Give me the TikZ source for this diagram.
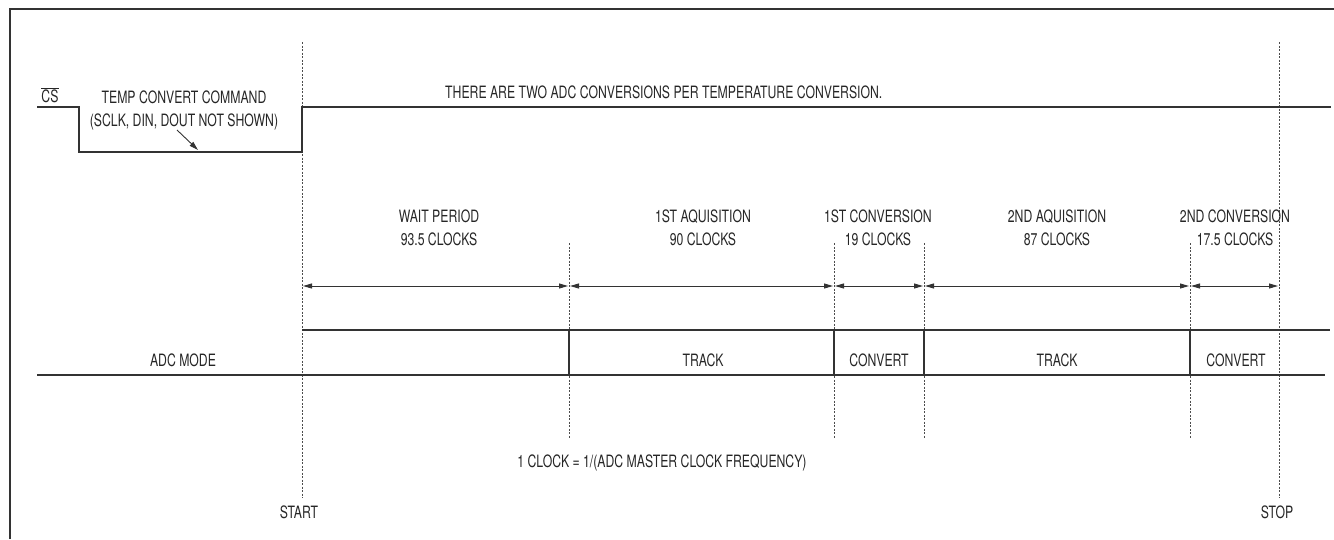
\documentclass[tikz,border=0pt]{standalone}
\usepackage{fontspec}
\setmainfont{TeX Gyre Heros}[FakeStretch=0.72]
\usetikzlibrary{arrows.meta}
\begin{document}
\begin{tikzpicture}[x=1pt,y=-1pt,
 txt/.style={font=\fontsize{17}{23}\selectfont, inner sep=0pt, text=black!85, align=center},
 sig/.style={line width=1.2pt, draw=black!80},
 guide/.style={line width=0.8pt, draw=black!70, dash pattern=on 2pt off 1.5pt},
 dim/.style={line width=0.9pt, draw=black!80, {Triangle[length=9pt,width=5pt]}-{Triangle[length=9pt,width=5pt]}},
 ptr/.style={line width=0.9pt, draw=black!80, -{Triangle[length=9pt,width=5pt]}},
]
\useasboundingbox (0,0) rectangle (1334,539);
% frame
\draw[line width=1.5pt, black!80] (10,539) -- (10,9) -- (1334,9);

% guide lines
\coordinate (g0t) at (302,42);  \coordinate (g0b) at (302,498);
\coordinate (g5t) at (1279,42); \coordinate (g5b) at (1279,498);
\coordinate (g1t) at (569,243); \coordinate (g1b) at (569,438);
\coordinate (g2t) at (834,243); \coordinate (g2b) at (834,438);
\coordinate (g3t) at (924,243); \coordinate (g3b) at (924,438);
\coordinate (g4t) at (1190,243); \coordinate (g4b) at (1190,438);
\draw[guide] (g0t) -- (g0b);
\draw[guide] (g5t) -- (g5b);
\draw[guide] (g1t) -- (g1b);
\draw[guide] (g2t) -- (g2b);
\draw[guide] (g3t) -- (g3b);
\draw[guide] (g4t) -- (g4b);

% dimension arrows
\coordinate (d0) at (302,286);
\coordinate (d1) at (569,286);
\coordinate (d2) at (834,286);
\coordinate (d3) at (924,286);
\coordinate (d4) at (1190,286);
\coordinate (d5) at (1279,286);
\draw[dim] ([xshift=1pt]d0) -- ([xshift=-1pt]d1);
\draw[dim] ([xshift=1pt]d1) -- ([xshift=-1pt]d2);
\draw[dim] ([xshift=1pt]d2) -- ([xshift=-1pt]d3);
\draw[dim] ([xshift=1pt]d3) -- ([xshift=-1pt]d4);
\draw[dim] ([xshift=1pt]d4) -- ([xshift=-1pt]d5);

% CS waveform
\draw[sig] (37,107) -- (79,107) -- (79,152) -- (302,152) -- (302,107) -- (1331,107);
% ADC mode waveform
\draw[sig] (302,330) -- (1330,330);
\draw[sig] (37,375) -- (1325,375);
\draw[sig] (569,330) -- (569,375);
\draw[sig] (834,330) -- (834,375);
\draw[sig] (924,330) -- (924,375);
\draw[sig] (1190,330) -- (1190,375);

% texts
\node[txt] (cs) at (50,95) {$\overline{\hbox{CS}}$};
\node[txt] (cmd) at (184,110) {TEMP CONVERT COMMAND\\(SCLK, DIN, DOUT NOT SHOWN)};
\coordinate (pa) at (177,130);
\coordinate (pb) at (198,150);
\draw[ptr] (pa) -- (pb);
\node[txt, anchor=west] (two) at (445,92) {THERE ARE TWO ADC CONVERSIONS PER TEMPERATURE CONVERSION.};

\node[txt] (wait) at (439,228) {WAIT PERIOD\\93.5 CLOCKS};
\node[txt] (acq1) at (703,228) {1ST AQUISITION\\90 CLOCKS};
\node[txt] (cnv1) at (878,228) {1ST CONVERSION\\19 CLOCKS};
\node[txt] (acq2) at (1057,228) {2ND AQUISITION\\87 CLOCKS};
\node[txt] (cnv2) at (1235,228) {2ND CONVERSION\\17.5 CLOCKS};

\node[txt] (adc) at (183,360) {ADC MODE};
\node[txt] (tr1) at (703,360) {TRACK};
\node[txt] (cv1) at (879,360) {CONVERT};
\node[txt] (tr2) at (1057,360) {TRACK};
\node[txt] (cv2) at (1236,360) {CONVERT};

\node[txt] (clk) at (662,463) {1 CLOCK = 1/(ADC MASTER CLOCK FREQUENCY)};
\node[txt] (start) at (299,512) {START};
\node[txt] (stop) at (1277,512) {STOP};
\end{tikzpicture}
\end{document}
